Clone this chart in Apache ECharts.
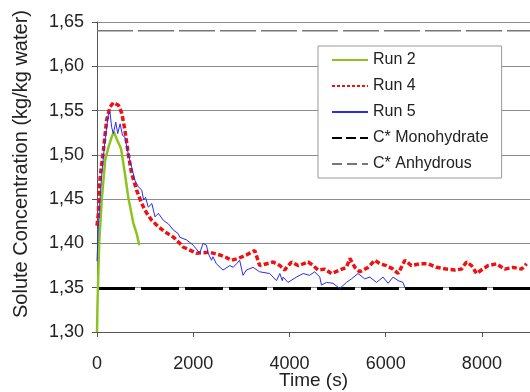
<!DOCTYPE html>
<html><head><meta charset="utf-8">
<script src="https://cdn.jsdelivr.net/npm/echarts@6/dist/echarts.min.js"></script>
<style>html,body{margin:0;padding:0;background:#fff}#c{width:530px;height:392px}</style>
</head><body><div id="c"></div>
<script>
const run2Time = [0, 10, 30, 45, 100, 170, 240, 305, 350, 410, 500, 580, 650, 755, 825, 880];
const run2Conc = [1.30, 1.33, 1.37, 1.40, 1.45, 1.494, 1.509, 1.52, 1.526, 1.518, 1.507, 1.479, 1.452, 1.423, 1.411, 1.398];

const run4Time = [0, 30, 40, 75, 133, 200, 270, 340, 445, 515, 580, 650, 720, 825, 930, 1035, 1140, 1275, 1415, 1590, 1725, 1790, 2065, 2340, 2550, 2690, 2795, 2930, 3105, 3175, 3280, 3380, 3660, 3800, 3900, 4040, 4180, 4390, 4490, 4595, 4735, 4875, 5045, 5185, 5255, 5360, 5460, 5635, 5705, 5775, 5880, 6015, 6155, 6260, 6400, 6535, 6710, 6880, 7055, 7265, 7435, 7575, 7680, 7785, 7890, 7990, 8130, 8305, 8475, 8650, 8825, 8930];
const run4Conc = [1.42, 1.434, 1.46, 1.479, 1.505, 1.539, 1.554, 1.559, 1.556, 1.547, 1.528, 1.501, 1.479, 1.46, 1.445, 1.434, 1.426, 1.419, 1.413, 1.407, 1.40, 1.396, 1.389, 1.39, 1.387, 1.384, 1.381, 1.383, 1.387, 1.389, 1.392, 1.375, 1.379, 1.375, 1.37, 1.379, 1.375, 1.379, 1.375, 1.37, 1.371, 1.366, 1.37, 1.373, 1.383, 1.373, 1.368, 1.373, 1.377, 1.381, 1.377, 1.375, 1.371, 1.366, 1.381, 1.375, 1.377, 1.377, 1.373, 1.371, 1.37, 1.371, 1.379, 1.375, 1.366, 1.37, 1.375, 1.377, 1.371, 1.373, 1.371, 1.377];

const run5Time = [0, 30, 100, 165, 235, 270, 305, 340, 390, 430, 480, 530, 580, 650, 720, 790, 860, 930, 970, 1010, 1065, 1140, 1205, 1275, 1380, 1485, 1590, 1690, 1720, 1860, 2000, 2135, 2205, 2275, 2310, 2380, 2410, 2480, 2620, 2760, 2830, 2900, 2965, 3035, 3105, 3245, 3380, 3590, 3730, 3800, 3850, 3870, 3970, 4005, 4145, 4285, 4420, 4525, 4630, 4665, 4770, 4905, 5045, 5185, 5290, 5425, 5565, 5670, 5810, 5945, 6050, 6155, 6260, 6360, 6400];
const run5Conc = [1.38, 1.422, 1.479, 1.516, 1.545, 1.548, 1.531, 1.524, 1.537, 1.524, 1.535, 1.522, 1.52, 1.501, 1.486, 1.471, 1.464, 1.46, 1.449, 1.452, 1.441, 1.445, 1.43, 1.434, 1.426, 1.422, 1.415, 1.411, 1.407, 1.404, 1.398, 1.389, 1.40, 1.398, 1.389, 1.381, 1.385, 1.377, 1.37, 1.375, 1.373, 1.377, 1.381, 1.364, 1.37, 1.373, 1.368, 1.366, 1.358, 1.366, 1.358, 1.362, 1.356, 1.356, 1.362, 1.366, 1.364, 1.368, 1.362, 1.353, 1.356, 1.355, 1.349, 1.356, 1.36, 1.366, 1.36, 1.362, 1.356, 1.362, 1.355, 1.362, 1.358, 1.356, 1.35];

const monoConc = 1.349;
const anhydConc = 1.64;
const xRange = [0, 9000];
const yTicks = ['1,30','1,35','1,40','1,45','1,50','1,55','1,60','1,65'];
const xTicks = ['0','2000','4000','6000','8000'];

const zip = (a, b) => a.map((v, i) => [v, b[i]]);
const font = "'Liberation Sans', Arial, sans-serif";

const chart = echarts.init(document.getElementById('c'), null, {renderer: 'canvas'});
chart.setOption({
  animation: false,
  backgroundColor: '#fff',
  textStyle: {fontFamily: font},
  grid: {left: 97, right: 0, top: 22, bottom: 60, containLabel: false, outerBoundsMode: 'none'},
  legend: {
    orient: 'vertical', left: 318, top: 46,
    padding: [6, 13, 6, 13],
    itemWidth: 36, itemHeight: 14, itemGap: 10,
    backgroundColor: '#fff', borderColor: '#999', borderWidth: 1,
    itemStyle: {opacity: 0},
    textStyle: {fontFamily: font, fontSize: 16, color: '#222'},
    data: [
      {name: 'Run 2'},
      {name: 'Run 4', lineStyle: {type: [3, 2]}},
      {name: 'Run 5'},
      {name: 'C* Monohydrate', lineStyle: {type: [10, 4]}},
      {name: 'C* Anhydrous', lineStyle: {type: [10, 5]}}
    ]
  },
  xAxis: {
    type: 'value', min: xRange[0], max: xRange[1], interval: 2000,
    name: 'Time (s)', nameLocation: 'middle', nameGap: 39, nameMoveOverlap: false,
    nameTextStyle: {fontFamily: font, fontSize: 19, color: '#222'},
    axisLine: {show: true, onZero: false, lineStyle: {color: '#555', width: 1}},
    axisTick: {show: true, length: 5, lineStyle: {color: '#555'}},
    axisLabel: {fontFamily: font, fontSize: 18, color: '#222', margin: 23,
      formatter: v => { const i = xTicks.indexOf(String(v)); return i >= 0 ? xTicks[i] : ''; }},
    splitLine: {show: false}
  },
  yAxis: {
    type: 'value', min: 1.30, max: 1.65, interval: 0.05,
    name: 'Solute Concentration (kg/kg water)', nameLocation: 'middle', nameGap: 66,
    nameRotate: 90,
    nameTextStyle: {fontFamily: font, fontSize: 20, color: '#222', padding: [0, 0, 0, 26]},
    axisLine: {show: true, lineStyle: {color: '#555', width: 1}},
    axisTick: {show: true, length: 5, lineStyle: {color: '#555'}},
    axisLabel: {fontFamily: font, fontSize: 18, color: '#222', margin: 13,
      formatter: v => yTicks[Math.round((v - 1.30) / 0.05)] || ''},
    splitLine: {show: true, lineStyle: {color: '#8c8c8c', width: 1}}
  },
  series: [
    {name: 'Run 2', type: 'line', showSymbol: false, symbol: 'none', z: 3,
     data: zip(run2Time, run2Conc), lineStyle: {color: '#8cc41e', width: 2.5}, itemStyle: {color: '#8cc41e'}},
    {name: 'Run 4', type: 'line', showSymbol: false, symbol: 'none', z: 3,
     data: zip(run4Time, run4Conc), lineStyle: {color: '#ee1111', width: 3.5, type: [5, 2.5]}, itemStyle: {color: '#ee1111'}},
    {name: 'Run 5', type: 'line', showSymbol: false, symbol: 'none', z: 4,
     data: zip(run5Time, run5Conc), lineStyle: {color: '#2b2bee', width: 1}, itemStyle: {color: '#2b2bee'}},
    {name: 'C* Monohydrate', type: 'line', showSymbol: false, symbol: 'none', z: 2,
     data: xRange.map(x => [x, monoConc]), lineStyle: {color: '#000', width: 3, type: [38, 6]}, itemStyle: {color: '#000'}},
    {name: 'C* Anhydrous', type: 'line', showSymbol: false, symbol: 'none', z: 2,
     data: xRange.map(x => [x, anhydConc]), lineStyle: {color: '#777', width: 1.5, type: [36, 5]}, itemStyle: {color: '#777'}}
  ]
});
</script></body></html>
